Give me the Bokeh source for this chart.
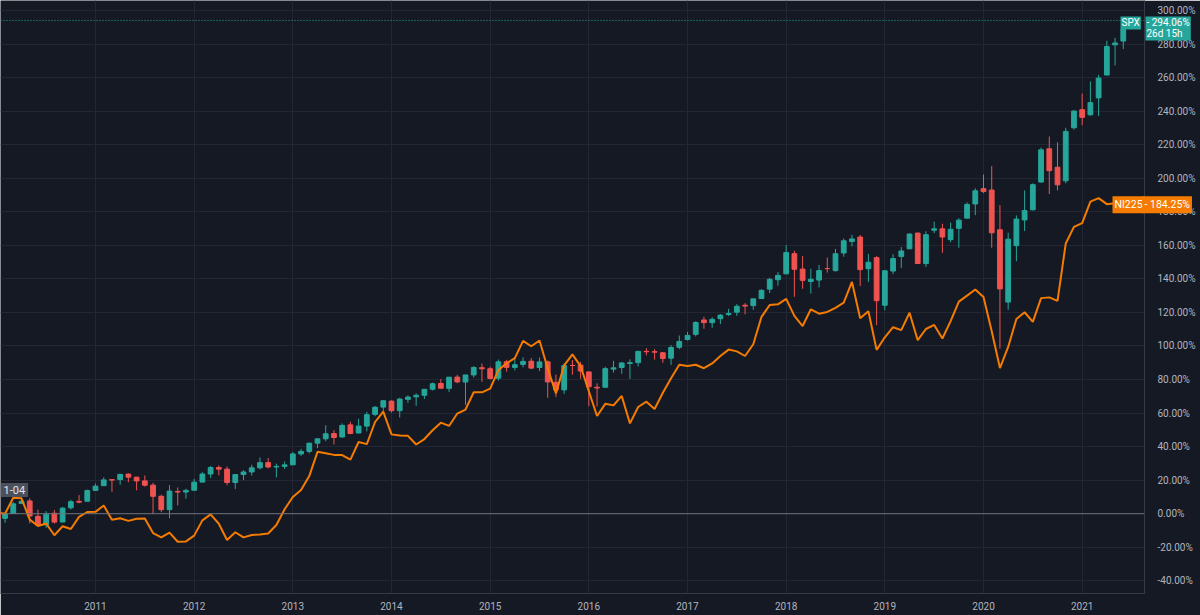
from bokeh.plotting import figure
from bokeh.models import ColumnDataSource, FixedTicker, PrintfTickFormatter, Range1d, Span, Label, GridBox
from bokeh.embed import file_html
from bokeh.resources import INLINE

# ---------------- data: S&P 500 (SPX) monthly OHLC, Jan 2010 .. Jul 2021 ----------------
spx_open = [
    1116.56, 1073.89, 1105.36, 1171.23, 1188.58, 1087.30, 1031.10, 1107.53, 1049.72, 1143.49, 1185.71, 1186.60,
    1257.62, 1289.14, 1328.64, 1329.48, 1365.21, 1345.20, 1320.64, 1292.59, 1219.12, 1131.21, 1251.00, 1246.91,
    1258.86, 1312.45, 1365.90, 1408.47, 1397.86, 1309.87, 1362.33, 1379.32, 1406.54, 1440.90, 1412.20, 1416.18,
    1426.19, 1498.11, 1514.68, 1569.18, 1597.55, 1631.71, 1609.78, 1689.42, 1635.95, 1681.34, 1758.70, 1806.55,
    1845.86, 1782.68, 1857.68, 1873.96, 1884.39, 1923.87, 1962.29, 1929.80, 2004.07, 1971.44, 2018.21, 2065.78,
    2058.90, 1996.67, 2105.23, 2067.63, 2087.38, 2108.64, 2067.00, 2104.49, 1970.09, 1919.65, 2080.76, 2082.93,
    2038.20, 1936.94, 1937.09, 2056.62, 2067.17, 2093.94, 2099.34, 2173.15, 2171.33, 2164.33, 2128.68, 2200.17,
    2251.57, 2285.59, 2380.13, 2362.34, 2388.50, 2415.65, 2431.39, 2477.10, 2474.42, 2521.20, 2583.21, 2645.10,
    2683.73, 2816.45, 2715.22, 2633.45, 2642.96, 2718.70, 2704.95, 2821.17, 2896.96, 2926.29, 2717.58, 2790.50,
    2476.96, 2702.32, 2798.22, 2848.63, 2952.33, 2751.53, 2971.41, 2980.32, 2909.01, 2983.69, 3050.72, 3143.85,
    3244.67, 3235.66, 2974.28, 2498.08, 2869.09, 3038.78, 3105.92, 3288.26, 3507.44, 3385.87, 3296.20, 3645.87,
    3764.61, 3731.17, 3842.51, 3992.78, 4191.98, 4216.52, 4300.73,
]
spx_high = [
    1150.45, 1112.42, 1180.16, 1219.80, 1205.13, 1131.23, 1120.95, 1129.24, 1148.90, 1196.14, 1227.08, 1262.60,
    1302.67, 1344.07, 1332.28, 1364.56, 1370.58, 1345.20, 1356.48, 1307.38, 1229.29, 1292.66, 1277.55, 1269.37,
    1333.47, 1378.04, 1419.15, 1422.38, 1415.32, 1363.46, 1391.74, 1426.68, 1474.51, 1470.96, 1434.27, 1448.00,
    1509.94, 1530.94, 1570.28, 1597.57, 1687.18, 1654.19, 1698.78, 1709.67, 1729.86, 1775.22, 1813.55, 1849.44,
    1850.84, 1867.92, 1883.97, 1897.28, 1924.03, 1968.17, 1991.39, 2005.04, 2019.26, 2018.19, 2075.76, 2093.55,
    2072.36, 2119.59, 2117.52, 2125.92, 2134.72, 2129.87, 2132.82, 2112.66, 2020.86, 2094.32, 2116.48, 2104.27,
    2038.20, 1962.96, 2072.21, 2111.05, 2103.48, 2120.55, 2177.09, 2193.81, 2187.87, 2169.60, 2214.10, 2277.53,
    2300.99, 2371.54, 2400.98, 2398.16, 2418.71, 2453.82, 2484.04, 2490.87, 2519.44, 2582.98, 2657.74, 2694.97,
    2872.87, 2835.96, 2801.90, 2717.49, 2742.24, 2791.47, 2848.03, 2916.50, 2940.91, 2939.86, 2815.15, 2800.18,
    2708.95, 2813.49, 2860.31, 2949.52, 2954.13, 2964.15, 3027.98, 3013.59, 3021.99, 3050.10, 3154.26, 3247.93,
    3337.77, 3393.52, 3136.72, 2954.86, 3068.67, 3233.13, 3279.99, 3514.77, 3588.11, 3549.85, 3645.99, 3760.20,
    3870.90, 3950.43, 3994.41, 4218.78, 4238.04, 4302.43, 4355.51,
]
spx_low = [
    1071.59, 1044.50, 1105.36, 1170.69, 1040.78, 1028.33, 1010.91, 1039.70, 1049.72, 1131.87, 1173.00, 1186.60,
    1257.62, 1289.14, 1249.05, 1294.70, 1311.80, 1258.07, 1282.86, 1101.54, 1114.22, 1074.77, 1158.66, 1202.37,
    1258.86, 1312.45, 1340.03, 1357.38, 1291.98, 1266.74, 1325.41, 1354.65, 1396.56, 1403.28, 1343.35, 1398.11,
    1426.19, 1485.01, 1501.48, 1536.03, 1581.28, 1560.33, 1604.57, 1627.47, 1633.41, 1646.47, 1746.20, 1767.99,
    1770.45, 1737.92, 1834.44, 1814.36, 1859.79, 1915.98, 1930.67, 1904.78, 1964.04, 1820.66, 2001.01, 1972.56,
    1988.12, 1980.90, 2039.69, 2048.38, 2067.93, 2056.32, 2044.02, 1867.01, 1871.91, 1893.70, 2019.39, 1993.26,
    1812.29, 1810.10, 1937.09, 2033.80, 2025.91, 1991.68, 2074.02, 2147.58, 2119.12, 2097.85, 2083.79, 2187.44,
    2245.13, 2271.65, 2322.25, 2328.95, 2352.72, 2405.70, 2407.70, 2417.35, 2446.55, 2520.40, 2557.45, 2605.52,
    2682.36, 2532.69, 2585.89, 2553.80, 2594.62, 2691.99, 2698.95, 2796.34, 2864.12, 2603.54, 2631.09, 2346.58,
    2443.96, 2681.83, 2722.27, 2848.63, 2750.52, 2728.81, 2952.22, 2822.12, 2891.85, 2855.94, 3050.72, 3070.33,
    3214.64, 2855.84, 2191.86, 2447.49, 2766.64, 2965.66, 3101.17, 3284.53, 3209.45, 3233.94, 3279.74, 3633.40,
    3662.71, 3725.62, 3723.34, 3992.78, 4056.88, 4164.40, 4300.73,
]
spx_close = [
    1073.87, 1104.49, 1169.43, 1186.69, 1089.41, 1030.71, 1101.60, 1049.33, 1141.20, 1183.26, 1180.55, 1257.64,
    1286.12, 1327.22, 1325.83, 1363.61, 1345.20, 1320.64, 1292.28, 1218.89, 1131.42, 1253.30, 1246.96, 1257.60,
    1312.41, 1365.68, 1408.47, 1397.91, 1310.33, 1362.16, 1379.32, 1406.58, 1440.67, 1412.16, 1416.18, 1426.19,
    1498.11, 1514.68, 1569.19, 1597.57, 1630.74, 1606.28, 1685.73, 1632.97, 1681.55, 1756.54, 1805.81, 1848.36,
    1782.59, 1859.45, 1872.34, 1883.95, 1923.57, 1960.23, 1930.67, 2003.37, 1972.29, 2018.05, 2067.56, 2058.90,
    1994.99, 2104.50, 2067.89, 2085.51, 2107.39, 2063.11, 2103.84, 1972.18, 1920.03, 2079.36, 2080.41, 2043.94,
    1940.24, 1932.23, 2059.74, 2065.30, 2096.95, 2098.86, 2173.60, 2170.95, 2168.27, 2126.15, 2198.81, 2238.83,
    2278.87, 2363.64, 2362.72, 2384.20, 2411.80, 2423.41, 2470.30, 2471.65, 2519.36, 2575.26, 2647.58, 2673.61,
    2823.81, 2713.83, 2640.87, 2648.05, 2705.27, 2718.37, 2816.29, 2901.52, 2913.98, 2711.74, 2760.17, 2506.85,
    2704.10, 2784.49, 2834.40, 2945.83, 2752.06, 2941.76, 2980.38, 2926.46, 2976.74, 3037.56, 3140.98, 3230.78,
    3225.52, 2954.22, 2584.59, 2912.43, 3044.31, 3100.29, 3271.12, 3500.31, 3363.00, 3269.96, 3621.63, 3756.07,
    3714.24, 3811.15, 3972.89, 4181.17, 4204.11, 4297.50, 4352.34,
]
# ---------------- data: Nikkei 225 (NI225) monthly closes, Jan 2010 .. Jul 2021 ----------------
nikkei_close = [
    10198.04, 10126.03, 11089.94, 11057.40, 9768.70, 9382.64, 9537.30, 8824.06, 9369.35, 9202.45, 9937.04, 10228.92,
    10237.92, 10624.09, 9755.10, 9849.74, 9693.73, 9816.09, 9833.03, 8955.20, 8700.29, 8988.39, 8434.61, 8455.35,
    8802.51, 9723.24, 10083.56, 9520.89, 8542.73, 9006.78, 8695.06, 8839.91, 8870.16, 8928.29, 9446.01, 10395.18,
    11138.66, 11559.36, 12397.91, 13860.86, 13774.54, 13677.32, 13668.32, 13388.86, 14455.80, 14327.94, 15661.87, 16291.31,
    14914.53, 14841.07, 14827.83, 14304.11, 14632.38, 15162.10, 15620.77, 15424.59, 16173.52, 16413.76, 17459.85, 17450.77,
    17674.39, 18797.94, 19206.99, 19520.01, 20563.15, 20235.73, 20585.24, 18890.48, 17388.15, 19083.10, 19747.47, 19033.71,
    17518.30, 16026.76, 16758.67, 16666.05, 17234.98, 15575.92, 16569.27, 16887.40, 16449.84, 17425.02, 18308.48, 19114.37,
    19041.34, 19118.99, 18909.26, 19196.74, 19650.57, 20033.43, 19925.18, 19646.24, 20356.28, 22011.61, 22724.96, 22764.94,
    23098.29, 22068.24, 21454.30, 22467.87, 22201.82, 22304.51, 22553.72, 22865.15, 24120.04, 21920.46, 22351.06, 20014.77,
    20773.49, 21385.16, 21205.81, 22258.73, 20601.19, 21275.92, 21521.53, 20704.37, 21755.84, 22927.04, 23293.91, 23656.62,
    23205.18, 21142.96, 18917.01, 20193.69, 21877.89, 22288.14, 21710.00, 23139.76, 23185.12, 22977.13, 26433.62, 27444.17,
    27663.39, 28966.01, 29178.80, 28812.63, 28860.08, 28791.53, 28783.28,
]
base_month = "2010-02"           # percent scale is relative to this bar's close
year_labels = ["2011", "2012", "2013", "2014", "2015", "2016", "2017", "2018", "2019", "2020", "2021"]
pct_ticks = [-40, -20, 0, 20, 40, 60, 80, 100, 120, 140, 160, 180, 200, 220, 240, 260, 280, 300]
countdown = "26d 15h"
left_marker = "1-04"

# ---------------- derived ----------------
months = [f"{y}-{m:02d}" for y in range(2010, 2022) for m in range(1, 13)][:len(spx_close)]
bi = months.index(base_month)


def to_pct(vals, base):
    return [(v / base - 1.0) * 100.0 for v in vals]


o = to_pct(spx_open, spx_close[bi])
h = to_pct(spx_high, spx_close[bi])
l = to_pct(spx_low, spx_close[bi])
c = to_pct(spx_close, spx_close[bi])
nk = to_pct(nikkei_close, nikkei_close[bi])
idx = list(range(len(months)))


def subset(flag):
    sel = [i for i in idx if (c[i] >= o[i]) == flag]
    return ColumnDataSource(dict(
        x=sel,
        top=[max(o[i], c[i]) for i in sel],
        bottom=[min(o[i], c[i]) for i in sel],
        high=[h[i] for i in sel],
        low=[l[i] for i in sel],
    ))


src_up, src_dn = subset(True), subset(False)

BG = "#151924"
GRID = "#232733"
UP = "#26a69a"
DN = "#ef5350"
ORANGE = "#f57c00"
TXT = "#b2b5be"
FONT = "Roboto"

# layout: 8.2225 px per month, Jan 2010 at px -3.67; 1.6774 px per percent, 0% at px 513.2
X0, X1 = 0.4463, 139.58
Y0, Y1 = -47.57, 305.95
p = figure(
    width=1200, height=615,
    x_range=Range1d(X0, X1), y_range=Range1d(Y0, Y1),
    y_axis_location="right", toolbar_location=None, output_backend="svg",
    min_border_left=0, min_border_top=0, min_border_right=56, min_border_bottom=22,
    background_fill_color=BG, border_fill_color=BG, outline_line_color=None,
)

p.xaxis.ticker = FixedTicker(ticks=[months.index(f"{y}-01") for y in year_labels])
p.xaxis.major_label_overrides = {months.index(f"{y}-01"): y for y in year_labels}
p.yaxis.ticker = FixedTicker(ticks=pct_ticks)
p.yaxis.formatter = PrintfTickFormatter(format="%.2f%%")
for ax in (p.xaxis[0], p.yaxis[0]):
    ax.axis_line_color = "#363a45"
    ax.major_tick_line_color = None
    ax.minor_tick_line_color = None
    ax.major_label_text_color = TXT
    ax.major_label_text_font = FONT
    ax.major_label_text_font_size = "10px"
p.yaxis.major_label_standoff = 7
p.xaxis.major_label_standoff = 2
p.xgrid.grid_line_color = GRID
p.ygrid.grid_line_color = GRID

p.add_layout(Span(location=0, dimension="width", line_color="#6f727d", line_width=1))
p.add_layout(Span(location=c[-1], dimension="width", line_color=UP, line_width=1, line_dash="1 2"))

# candles
for src, col in ((src_up, UP), (src_dn, DN)):
    p.segment(x0="x", y0="low", x1="x", y1="high", source=src, line_color=col, line_width=1)
    p.vbar(x="x", top="top", bottom="bottom", width=0.58, source=src,
           fill_color=col, line_color=col, line_width=1)

# NI225 comparison line
p.line(idx, nk, line_color=ORANGE, line_width=2)

p.add_layout(Label(x=0, y=593 - 489.5, x_units="screen", y_units="screen", text=left_marker,
                   text_color="#e0e3eb", text_font=FONT, text_font_size="11px",
                   text_baseline="middle", text_align="left",
                   background_fill_color="#4c505b", padding=3))

# ---- transparent overlay covering the whole canvas (same percent scale) for the price-scale tags ----
PX_PER_PCT = 593 / (Y1 - Y0)
PX_PER_MONTH = 1144 / (X1 - X0)
ov = figure(
    frame_width=1200, frame_height=615,
    x_range=Range1d(X0, X0 + 1200 / PX_PER_MONTH),
    y_range=Range1d(Y1 - 615 / PX_PER_PCT, Y1),
    x_axis_location=None, y_axis_location=None, toolbar_location=None, output_backend="svg",
    min_border=0, min_border_left=0, min_border_right=0, min_border_top=0, min_border_bottom=0,
    background_fill_alpha=0, border_fill_alpha=0, outline_line_color=None,
)
for fig in (p, ov):
    if "frame_align" in fig.properties():
        fig.frame_align = False
for g in ov.grid:
    g.visible = False


def tag(x, y, text, bg, baseline="middle", yoff=0, size="10.5px", pad=2):
    ov.add_layout(Label(x=x, y=y, x_units="screen", y_units="data", y_offset=yoff, text=text,
                        text_color="white", text_font=FONT, text_font_size=size,
                        text_line_height=1.0,
                        text_baseline=baseline, text_align="left",
                        background_fill_color=bg, padding=pad))


tag(1120, c[-1], "SPX", UP, baseline="top", yoff=4, size="10px", pad=1)
tag(1145, c[-1], "- %.2f%%\n%s" % (c[-1], countdown), UP, baseline="top", yoff=4, size="10px", pad=1)
tag(1112, nk[-1], "NI225", ORANGE)
tag(1142, nk[-1], "- %.2f%%" % nk[-1], ORANGE)

layout = GridBox(children=[(p, 0, 0), (ov, 0, 0)], width=1200, height=615)

open("out.html", "w").write(file_html(layout, INLINE))
